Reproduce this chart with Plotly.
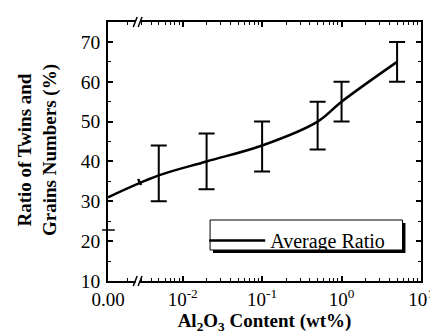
import plotly.graph_objects as go

# ---- data ----
content_wt = [0.005, 0.02, 0.1, 0.5, 1.0, 5.0]        # Al2O3 content (wt%)
avg_ratio = [36.5, 40.0, 44.0, 50.0, 55.0, 65.0]       # average ratio (%)
err_plus = [7.5, 7.0, 6.0, 5.0, 5.0, 5.0]
err_minus = [6.5, 7.0, 6.5, 7.0, 5.0, 5.0]
zero_pos = 10 ** -2.94      # where "0.00" sits on the broken log axis
ratio_at_zero = 31.0
x_tick_vals = [zero_pos, 0.01, 0.1, 1, 10]
x_tick_text = ["0.00", "10<sup>-2</sup>", "10<sup>-1</sup>", "10<sup>0</sup>", "10<sup>1</sup>"]
y_tick_vals = [10, 20, 30, 40, 50, 60, 70]

W, H = 438, 336
L, R, T, B = 100, 16, 14, 63
pw, ph = W - L - R, H - T - B


def px(x):
    return (x - L) / pw


def py(y):
    return (H - B - y) / ph


FONT = "Liberation Serif"

fig = go.Figure()
fig.add_trace(go.Scatter(
    x=[zero_pos] + content_wt, y=[ratio_at_zero] + avg_ratio,
    mode="lines", line=dict(color="black", width=2.5, shape="spline", smoothing=1.0),
    name="Average Ratio", showlegend=True))
fig.add_trace(go.Scatter(
    x=content_wt, y=avg_ratio, mode="markers", marker=dict(size=1, color="black"),
    error_y=dict(type="data", symmetric=False, array=err_plus, arrayminus=err_minus,
                 color="black", thickness=2, width=8),
    showlegend=False, hoverinfo="skip"))

shapes = []
# legend box with shadow
shapes.append(dict(type="rect", xref="paper", yref="paper",
                   x0=px(208), x1=px(406), y0=py(245), y1=py(215),
                   fillcolor="black", line=dict(width=0), layer="above"))
shapes.append(dict(type="rect", xref="paper", yref="paper",
                   x0=px(205), x1=px(403), y0=py(242), y1=py(212),
                   fillcolor="white", line=dict(color="black", width=1), layer="above"))
# axis break marks (bottom and top)
for yb in (H - B, T):
    shapes.append(dict(type="line", xref="paper", yref="paper",
                       x0=px(128.5), x1=px(133), y0=py(yb), y1=py(yb),
                       line=dict(color="white", width=4), layer="above"))
    for xo in (126, 131):
        shapes.append(dict(type="line", xref="paper", yref="paper",
                           x0=px(xo), x1=px(xo + 4), y0=py(yb + 5), y1=py(yb - 5),
                           line=dict(color="black", width=1.5), layer="above"))
# y-axis break mark
shapes.append(dict(type="line", xref="paper", yref="paper",
                   x0=px(94), x1=px(107), y0=py(222), y1=py(222),
                   line=dict(color="black", width=1.5), layer="above"))
# break mark on curve
shapes.append(dict(type="line", xref="paper", yref="paper",
                   x0=px(131), x1=px(134), y0=py(171), y1=py(177),
                   line=dict(color="black", width=2.5), layer="above"))

fig.update_layout(
    width=W, height=H,
    margin=dict(l=L, r=R, t=T, b=B),
    paper_bgcolor="white", plot_bgcolor="white",
    font=dict(family=FONT, color="black", size=19),
    shapes=shapes,
    legend=dict(x=px(199), y=py(213), xanchor="left", yanchor="top",
                bgcolor="rgba(0,0,0,0)", borderwidth=0,
                font=dict(family=FONT, size=20, color="black"),
                itemwidth=56),
    annotations=[dict(
        text="<b>Ratio of Twins and<br>Grains Numbers (%)</b>",
        xref="paper", yref="paper", x=px(27), y=py(142),
        xanchor="center", yanchor="middle", textangle=-90, showarrow=False,
        font=dict(family=FONT, size=19, color="black"))],
)
fig.update_xaxes(
    type="log", range=[-2.94, 1.0],
    tickvals=x_tick_vals, ticktext=x_tick_text,
    ticks="inside", ticklen=5, tickwidth=1.5, tickcolor="black",
    minor=dict(ticks="inside", ticklen=3, tickwidth=1, tickcolor="black", dtick="D1", showgrid=False),
    showline=True, linecolor="black", linewidth=2, mirror="ticks",
    showgrid=False, zeroline=False,
    tickfont=dict(family=FONT, size=19),
    title=dict(text="<b>Al<sub>2</sub>O<sub>3</sub> Content (wt%)</b>",
               font=dict(family=FONT, size=19), standoff=4),
)
fig.update_yaxes(
    range=[10, 75], tickvals=y_tick_vals,
    ticks="inside", ticklen=5, tickwidth=1.5, tickcolor="black",
    minor=dict(ticks="inside", ticklen=3, tickwidth=1, tickcolor="black", dtick=5, showgrid=False),
    showline=True, linecolor="black", linewidth=1.5, mirror="ticks",
    showgrid=False, zeroline=False, ticklabelstandoff=2,
    tickfont=dict(family=FONT, size=19.5),
)
fig.write_html("out.html")
